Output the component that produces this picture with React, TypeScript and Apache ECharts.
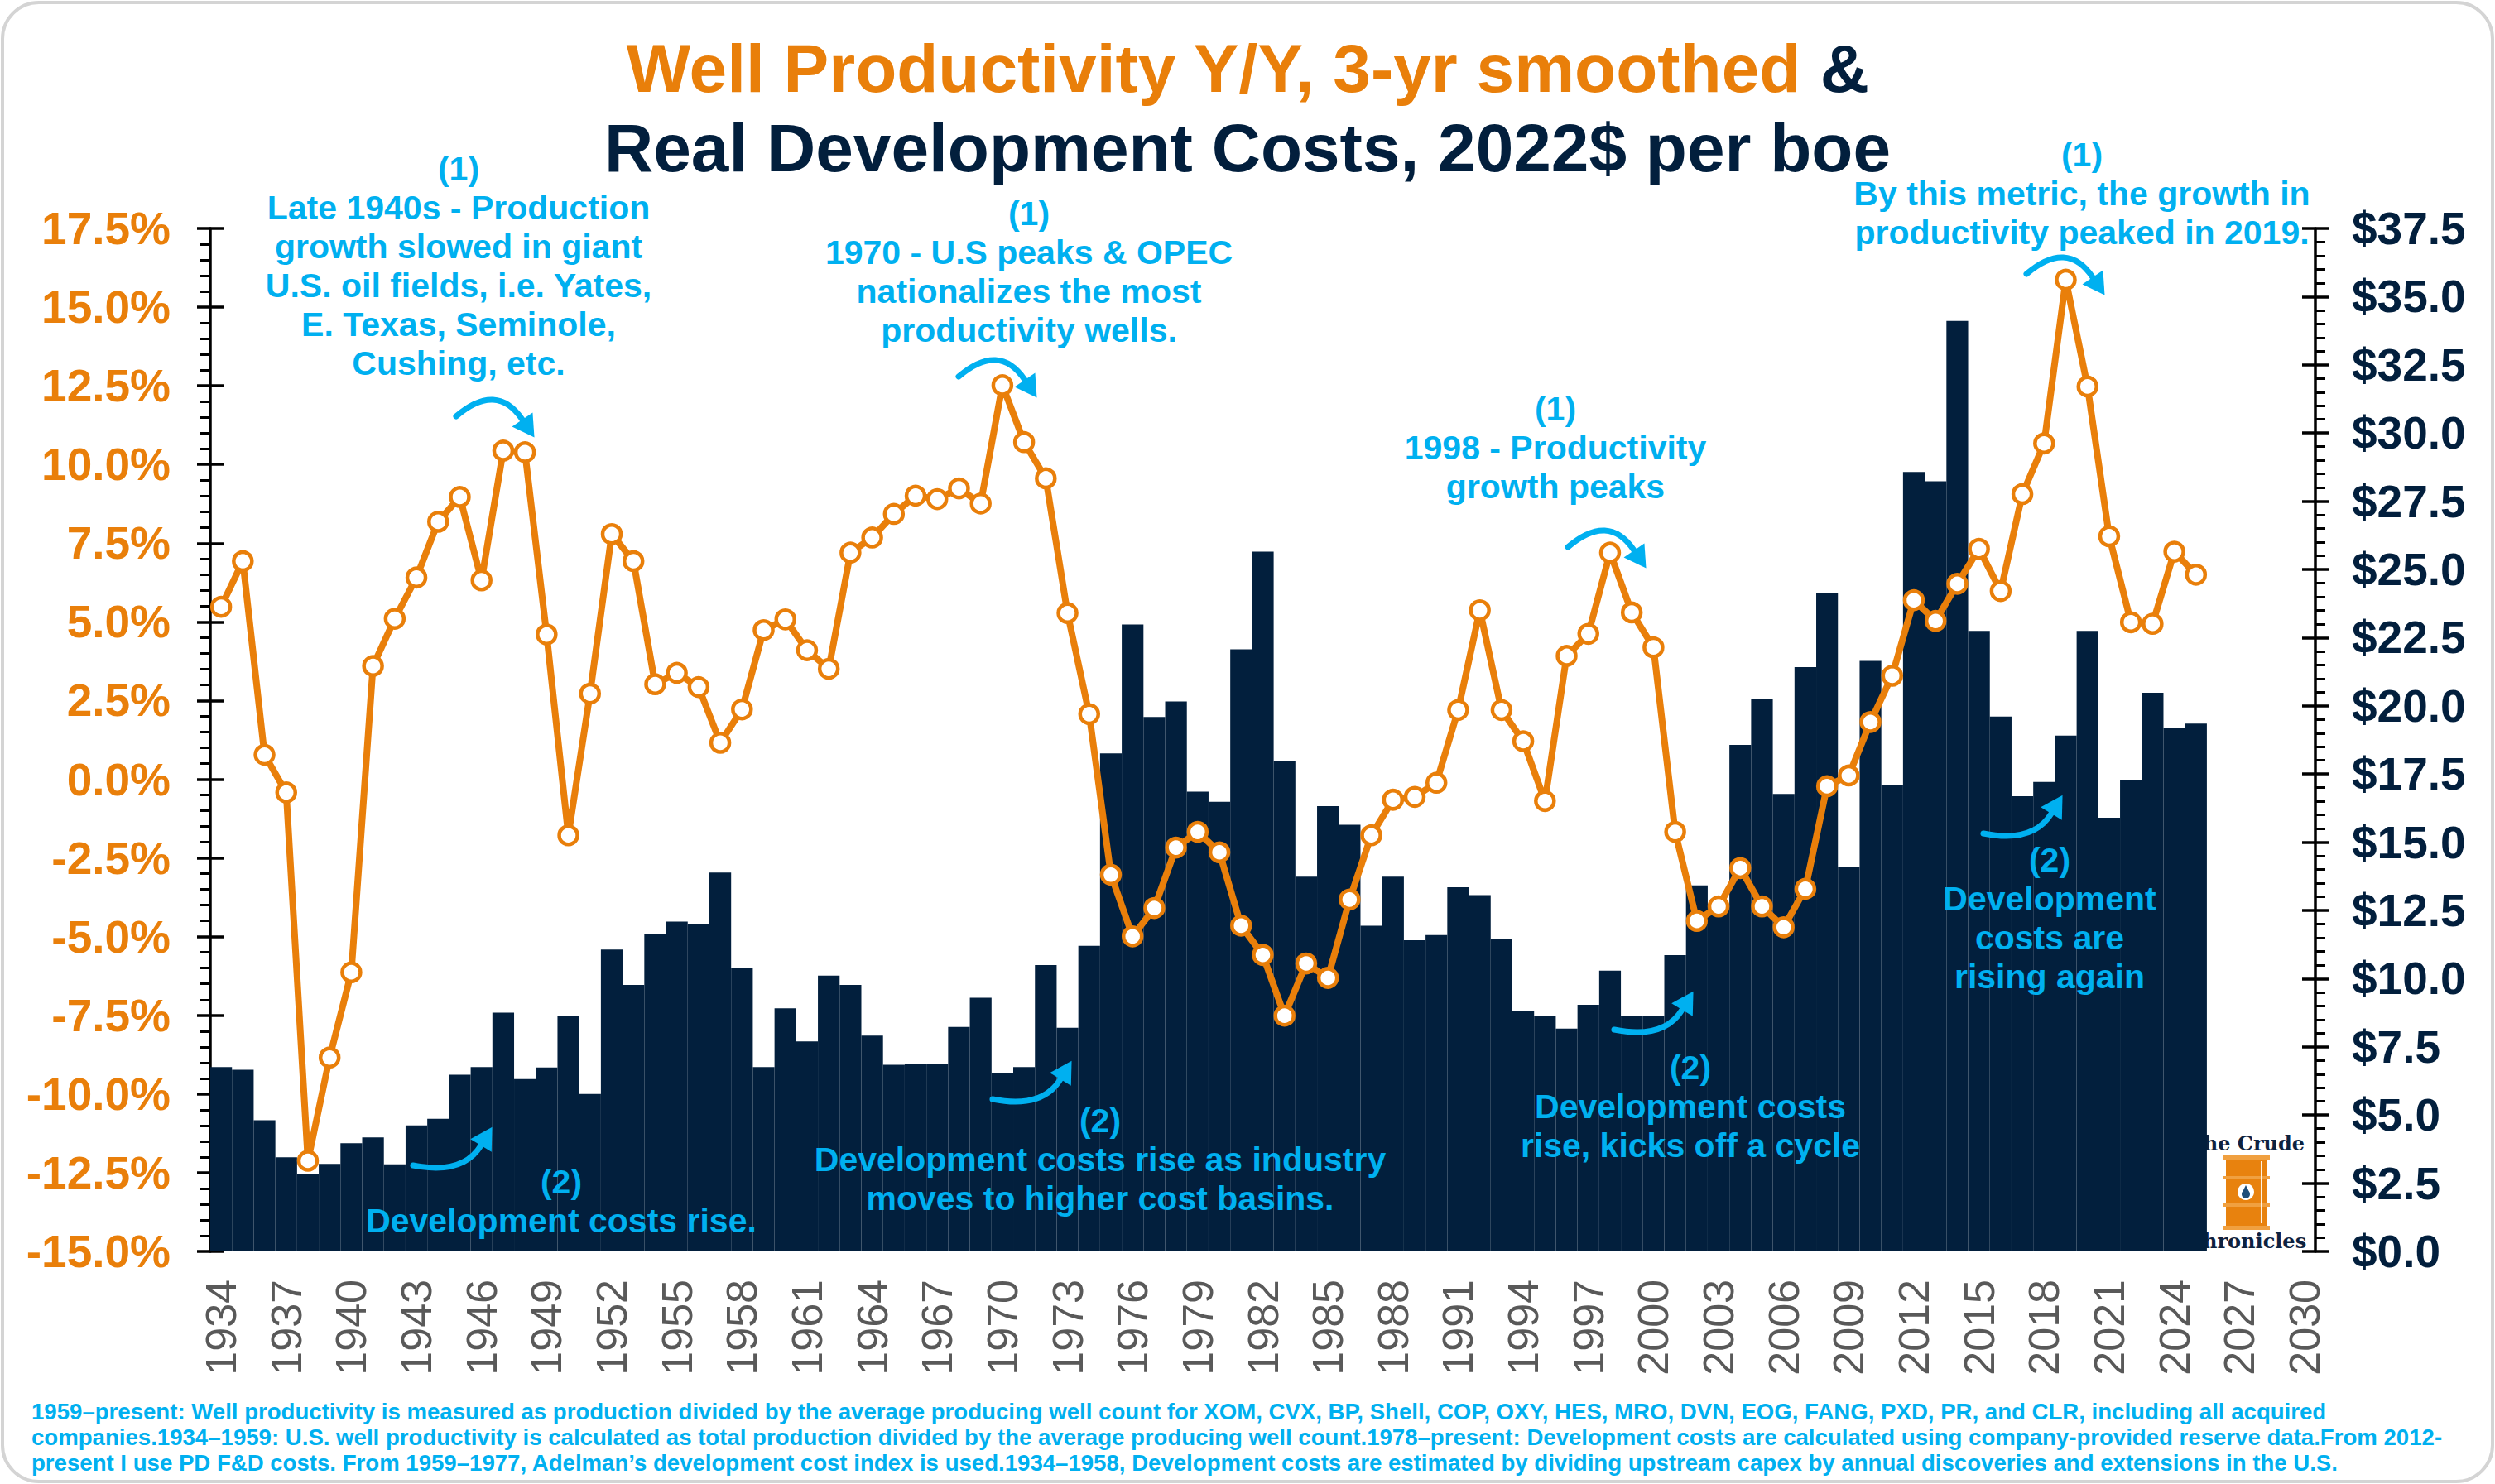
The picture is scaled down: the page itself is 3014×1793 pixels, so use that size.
import * as echarts from "echarts";
import { useEffect, useRef } from "react";

const W = 3014;
const H = 1793;
const ORANGE = "#E97F0A";
const NAVY = "#021F3D";
const CYAN = "#00B0F0";
const FONT = '"Liberation Sans", Arial, sans-serif';

const years = [
  "1934", "1935", "1936", "1937", "1938", "1939", "1940", "1941", "1942", "1943",
  "1944", "1945", "1946", "1947", "1948", "1949", "1950", "1951", "1952", "1953",
  "1954", "1955", "1956", "1957", "1958", "1959", "1960", "1961", "1962", "1963",
  "1964", "1965", "1966", "1967", "1968", "1969", "1970", "1971", "1972", "1973",
  "1974", "1975", "1976", "1977", "1978", "1979", "1980", "1981", "1982", "1983",
  "1984", "1985", "1986", "1987", "1988", "1989", "1990", "1991", "1992", "1993",
  "1994", "1995", "1996", "1997", "1998", "1999", "2000", "2001", "2002", "2003",
  "2004", "2005", "2006", "2007", "2008", "2009", "2010", "2011", "2012", "2013",
  "2014", "2015", "2016", "2017", "2018", "2019", "2020", "2021", "2022", "2023",
  "2024", "2025", "2026", "2027", "2028", "2029", "2030",
];

// well productivity y/y, 3-yr smoothed (%), 1934-2025
const productivity = [
  5.48, 6.93, 0.78, -0.42, -12.12, -8.84, -6.13, 3.6, 5.1, 6.41,
  8.18, 8.97, 6.32, 10.44, 10.39, 4.6, -1.78, 2.72, 7.79, 6.93,
  3.02, 3.38, 2.93, 1.16, 2.22, 4.74, 5.08, 4.1, 3.51, 7.2,
  7.68, 8.43, 9.01, 8.9, 9.24, 8.76, 12.52, 10.71, 9.56, 5.28,
  2.07, -3.03, -4.99, -4.09, -2.17, -1.67, -2.32, -4.65, -5.58, -7.51,
  -5.85, -6.31, -3.82, -1.78, -0.65, -0.56, -0.11, 2.2, 5.37, 2.2,
  1.21, -0.69, 3.92, 4.62, 7.2, 5.3, 4.19, -1.67, -4.5, -4.04,
  -2.82, -4.04, -4.7, -3.48, -0.22, 0.12, 1.82, 3.29, 5.69, 5.03,
  6.21, 7.32, 5.98, 9.06, 10.67, 15.87, 12.48, 7.72, 4.99, 4.94,
  7.23, 6.5,
];

// real development costs, 2022$ per boe, 1934-2025
const devCosts = [
  6.76, 6.66, 4.81, 3.45, 2.82, 3.21, 3.97, 4.18, 3.19, 4.62,
  4.86, 6.48, 6.76, 8.75, 6.32, 6.74, 8.62, 5.77, 11.07, 9.77,
  11.65, 12.09, 11.99, 13.89, 10.39, 6.76, 8.91, 7.7, 10.11, 9.77,
  7.91, 6.84, 6.89, 6.89, 8.23, 9.3, 6.53, 6.76, 10.5, 8.2,
  11.2, 18.26, 22.98, 19.59, 20.16, 16.85, 16.48, 22.07, 25.65, 17.99,
  13.74, 16.32, 15.64, 11.94, 13.74, 11.41, 11.6, 13.35, 13.06, 11.44,
  8.83, 8.62, 8.17, 9.04, 10.29, 8.64, 8.62, 10.86, 13.42, 12.7,
  18.57, 20.27, 16.77, 21.42, 24.13, 14.1, 21.65, 17.11, 28.57, 28.23,
  34.11, 22.75, 19.61, 16.69, 17.21, 18.91, 22.75, 15.9, 17.29, 20.48,
  19.2, 19.35,
];

const peakNotes = [
  ["(1)", "Late 1940s - Production", "growth slowed in giant", "U.S. oil fields, i.e. Yates,", "E. Texas, Seminole,", "Cushing, etc."],
  ["(1)", "1970 - U.S peaks & OPEC", "nationalizes the most", "productivity wells."],
  ["(1)", "1998 - Productivity", "growth peaks"],
  ["(1)", "By this metric, the growth in", "productivity peaked in 2019."],
];

const costNotes = [
  ["(2)", "Development costs rise."],
  ["(2)", "Development costs rise as industry", "moves to higher cost basins."],
  ["(2)", "Development costs", "rise, kicks off a cycle"],
  ["(2)", "Development", "costs are", "rising again"],
];

const footnotes = [
  "1959\u2013present: Well productivity is measured as production divided by the average producing well count for XOM, CVX, BP, Shell, COP, OXY, HES, MRO, DVN, EOG, FANG, PXD, PR, and CLR, including all acquired",
  "companies.1934\u20131959: U.S. well productivity is calculated as total production divided by the average producing well count.1978\u2013present: Development costs are calculated using company-provided reserve data.From 2012-",
  "present I use PD F&D costs. From 1959\u20131977, Adelman\u2019s development cost index is used.1934\u20131958, Development costs are estimated by dividing upstream capex by annual discoveries and extensions in the U.S.",
];

function noteText(lines, cx, y0) {
  return lines.map((t, i) => ({
    type: "text",
    z: 100,
    x: cx,
    y: y0 + i * 47,
    style: {
      text: t,
      fill: CYAN,
      fontSize: 41,
      fontWeight: "bold",
      fontFamily: FONT,
      textAlign: "center",
      textVerticalAlign: "middle",
    },
  }));
}

function arrow(sx, sy, kind) {
  const cp = kind === "A" ? [sx + 49, sy - 42] : [sx + 60, sy + 12];
  const end = kind === "A" ? [sx + 80, sy + 4] : [sx + 82, sy - 24];
  const dx = end[0] - cp[0];
  const dy = end[1] - cp[1];
  const len = Math.sqrt(dx * dx + dy * dy);
  const ux = dx / len;
  const uy = dy / len;
  const tip = [end[0] + ux * 26, end[1] + uy * 26];
  const b1 = [end[0] - uy * 15, end[1] + ux * 15];
  const b2 = [end[0] + uy * 15, end[1] - ux * 15];
  return [
    {
      type: "bezierCurve",
      z: 100,
      shape: { x1: sx, y1: sy, x2: end[0], y2: end[1], cpx1: cp[0], cpy1: cp[1] },
      style: { stroke: CYAN, lineWidth: 7, fill: null, lineCap: "round" },
    },
    {
      type: "polygon",
      z: 100,
      shape: { points: [tip, b1, b2] },
      style: { fill: CYAN },
    },
  ];
}

function logo() {
  const barrelOrange = "#E8820E";
  return [
    {
      type: "text",
      x: 2714,
      y: 1381,
      style: { text: "The Crude", fill: "#0D2240", fontSize: 24, fontWeight: "bold", fontFamily: '"DejaVu Serif", serif', textAlign: "center", textVerticalAlign: "middle" },
    },
    {
      type: "text",
      x: 2714,
      y: 1499,
      style: { text: "Chronicles", fill: "#0D2240", fontSize: 24, fontWeight: "bold", fontFamily: '"DejaVu Serif", serif', textAlign: "center", textVerticalAlign: "middle" },
    },
    { type: "rect", shape: { x: 2689, y: 1399, width: 50, height: 84 }, style: { fill: barrelOrange } },
    { type: "rect", shape: { x: 2686, y: 1396, width: 56, height: 5 }, style: { fill: "#F0A040" } },
    { type: "rect", shape: { x: 2686, y: 1421, width: 56, height: 4 }, style: { fill: "#F0A040" } },
    { type: "rect", shape: { x: 2686, y: 1454, width: 56, height: 4 }, style: { fill: "#F0A040" } },
    { type: "rect", shape: { x: 2686, y: 1481, width: 56, height: 5 }, style: { fill: "#F0A040" } },
    { type: "rect", shape: { x: 2731, y: 1403, width: 2, height: 75 }, style: { fill: "#FFF3E0" } },
    { type: "circle", shape: { cx: 2713, cy: 1440, r: 10 }, style: { fill: "#FFFFFF" } },
    { type: "circle", shape: { cx: 2713, cy: 1443, r: 5 }, style: { fill: "#1F4E79" } },
    { type: "polygon", shape: { points: [[2713, 1432], [2708.5, 1441], [2717.5, 1441]] }, style: { fill: "#1F4E79" } },
  ];
}

function buildGraphic() {
  const els = [];
  els.push({
    type: "rect",
    z: -1,
    shape: { x: 3, y: 3, width: W - 6, height: H - 6, r: 44 },
    style: { fill: "#FFFFFF", stroke: "#D4D4D4", lineWidth: 4 },
  });
  els.push({
    type: "text",
    z: 100,
    x: W / 2,
    y: 82,
    style: {
      text: "{o|Well Productivity Y/Y, 3-yr smoothed} {n|&}",
      fontSize: 82,
      fontWeight: "bold",
      fontFamily: FONT,
      textAlign: "center",
      textVerticalAlign: "middle",
      rich: {
        o: { fill: ORANGE, fontSize: 82, fontWeight: "bold", fontFamily: FONT },
        n: { fill: NAVY, fontSize: 82, fontWeight: "bold", fontFamily: FONT },
      },
    },
  });
  els.push({
    type: "text",
    z: 100,
    x: W / 2,
    y: 178,
    style: {
      text: "Real Development Costs, 2022$ per boe",
      fill: NAVY,
      fontSize: 82,
      fontWeight: "bold",
      fontFamily: FONT,
      textAlign: "center",
      textVerticalAlign: "middle",
    },
  });
  els.push(...logo());

  const peakPos = [[554, 204], [1243, 258], [1879, 494], [2515, 187]];
  peakNotes.forEach((lines, i) => els.push(...noteText(lines, peakPos[i][0], peakPos[i][1])));
  const costPos = [[678, 1428], [1329, 1354], [2042, 1290], [2476, 1039]];
  costNotes.forEach((lines, i) => els.push(...noteText(lines, costPos[i][0], costPos[i][1])));

  [[551, 503], [1158, 455], [1894, 661], [2448, 331]].forEach((p) => els.push(...arrow(p[0], p[1], "A")));
  [[499, 1408], [1199, 1328], [1950, 1244], [2396, 1007]].forEach((p) => els.push(...arrow(p[0], p[1], "B")));

  footnotes.forEach((t, i) => {
    els.push({
      type: "text",
      z: 100,
      x: 38,
      y: 1705 + i * 31,
      style: {
        text: t,
        fill: CYAN,
        fontSize: 27.6,
        fontWeight: "bold",
        fontFamily: FONT,
        textAlign: "left",
        textVerticalAlign: "middle",
      },
    });
  });
  return els;
}

function tickAxis(position, min, max) {
  return {
    type: "value",
    position,
    min,
    max,
    interval: 2.5,
    axisLine: { show: false },
    axisLabel: { show: false },
    splitLine: { show: false },
    axisTick: { show: true, inside: true, length: 16, lineStyle: { color: "#000", width: 3.5 } },
  };
}

function getChartOption() {
  return {
    animation: false,
    backgroundColor: "#FFFFFF",
    textStyle: { fontFamily: FONT },
    grid: { left: 254, right: 217, top: 276, bottom: 281 },
    xAxis: {
      type: "category",
      data: years,
      boundaryGap: true,
      axisLine: { show: false },
      axisTick: { show: false },
      axisLabel: { interval: 2, rotate: 90, color: "#595959", fontSize: 52, margin: 34, fontFamily: FONT },
    },
    yAxis: [
      {
        type: "value",
        position: "left",
        min: -15,
        max: 17.5,
        interval: 2.5,
        axisLine: { show: true, lineStyle: { color: "#000", width: 3.5 } },
        axisTick: { show: true, length: 16, lineStyle: { color: "#000", width: 3.5 } },
        minorTick: { show: true, splitNumber: 5, length: 12, lineStyle: { color: "#000", width: 3 } },
        splitLine: { show: false },
        axisLabel: {
          color: ORANGE,
          fontSize: 55,
          fontWeight: "bold",
          margin: 48,
          fontFamily: FONT,
          formatter: (v) => v.toFixed(1) + "%",
        },
      },
      {
        type: "value",
        position: "right",
        min: 0,
        max: 37.5,
        interval: 2.5,
        axisLine: { show: true, lineStyle: { color: "#000", width: 3.5 } },
        axisTick: { show: true, length: 16, lineStyle: { color: "#000", width: 3.5 } },
        minorTick: { show: true, splitNumber: 5, length: 12, lineStyle: { color: "#000", width: 3 } },
        splitLine: { show: false },
        axisLabel: {
          color: NAVY,
          fontSize: 55,
          fontWeight: "bold",
          margin: 44,
          fontFamily: FONT,
          formatter: (v) => "$" + v.toFixed(1),
        },
      },
      tickAxis("left", -15, 17.5),
      tickAxis("right", 0, 37.5),
    ],
    series: [
      {
        name: "Real Development Costs",
        type: "bar",
        yAxisIndex: 1,
        data: devCosts,
        barCategoryGap: "0%",
        barGap: "0%",
        itemStyle: { color: NAVY },
        z: 2,
      },
      {
        name: "Well Productivity Y/Y",
        type: "line",
        yAxisIndex: 0,
        data: productivity,
        symbol: "circle",
        symbolSize: 22,
        showAllSymbol: true,
        lineStyle: { color: ORANGE, width: 8 },
        itemStyle: { color: "#FFFFFF", borderColor: ORANGE, borderWidth: 4.5 },
        z: 3,
      },
    ],
    graphic: { elements: buildGraphic() },
  };
}

export default function App() {
  const chartRef = useRef(null);
  useEffect(() => {
    const chart = echarts.init(chartRef.current, null, { renderer: "svg" });
    chart.setOption(getChartOption());
    return () => {
      chart.dispose();
    };
  }, []);
  return (
    <div
      ref={chartRef}
      style={{ position: "absolute", left: 0, top: 0, width: W + "px", height: H + "px" }}
    />
  );
}
